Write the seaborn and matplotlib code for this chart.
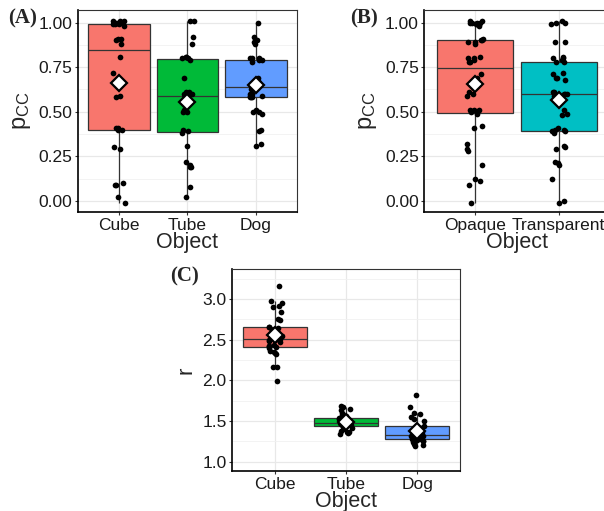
import numpy as np
import pandas as pd
import seaborn as sb
import matplotlib.pyplot as plt

objects = ["Cube", "Tube", "Dog"]
materials = ["Opaque", "Transparent"]

pcc_cube = [1.01, 1.00, 1.00, 0.99, 1.01, 0.98, 1.00, 0.99, 1.01, 1.00, 0.99,
            0.91, 0.91, 0.90, 0.88, 0.81, 0.72, 0.59, 0.58,
            0.41, 0.41, 0.40, 0.40, 0.30, 0.29, 0.10, 0.09, 0.09, 0.02, -0.01]
pcc_tube = [1.01, 1.01, 0.92, 0.88, 0.81, 0.80, 0.79, 0.80, 0.81, 0.69,
            0.61, 0.60, 0.60, 0.59, 0.58, 0.60, 0.61, 0.59, 0.51, 0.50, 0.50,
            0.40, 0.39, 0.38, 0.31, 0.22, 0.20, 0.19, 0.19, 0.08, 0.02]
pcc_dog = [1.00, 0.92, 0.90, 0.89, 0.88, 0.80, 0.80, 0.79, 0.78, 0.79,
           0.69, 0.66, 0.65, 0.66, 0.60, 0.59, 0.58, 0.58, 0.58, 0.63, 0.64,
           0.60, 0.59, 0.67, 0.51, 0.50, 0.50, 0.49, 0.40, 0.39, 0.31, 0.32, 0.80]

# panel B: p_CC per material
pcc_opaque = [1.00, 1.01, 0.99, 1.00, 0.99, 1.00, 1.01, 0.98, 1.00,
              0.91, 0.90, 0.89, 0.89, 0.88, 0.90,
              0.81, 0.80, 0.79, 0.78, 0.78, 0.80,
              0.71, 0.69, 0.61, 0.60, 0.59,
              0.51, 0.51, 0.50, 0.51, 0.50, 0.49,
              0.42, 0.41, 0.32, 0.29, 0.28, 0.20, 0.12, 0.11, 0.09, -0.01]
pcc_transp = [1.01, 1.00, 1.00, 0.99, 0.89, 0.89, 0.81, 0.80, 0.79, 0.78, 0.80, 0.78,
              0.72, 0.71, 0.69, 0.69, 0.68,
              0.61, 0.60, 0.60, 0.60, 0.59, 0.61, 0.59,
              0.51, 0.49, 0.48, 0.41, 0.40, 0.40, 0.39, 0.39, 0.38,
              0.31, 0.30, 0.29, 0.22, 0.21, 0.20, 0.12, 0.00, -0.01]

# panel C: r per object
r_cube = [3.16, 2.97, 2.95, 2.92, 2.90, 2.84, 2.75, 2.74, 2.66, 2.65, 2.64,
          2.62, 2.58, 2.57, 2.55, 2.53, 2.51, 2.50, 2.49, 2.48, 2.47, 2.43,
          2.42, 2.42, 2.41, 2.40, 2.36, 2.35, 2.34, 2.33, 2.17, 2.17, 1.99]
r_tube = [1.68, 1.67, 1.65, 1.63, 1.60, 1.57, 1.56, 1.54, 1.53, 1.52, 1.52,
          1.51, 1.50, 1.49, 1.49, 1.48, 1.48, 1.47, 1.47, 1.46, 1.46, 1.45,
          1.45, 1.44, 1.43, 1.41, 1.40, 1.38, 1.37, 1.36, 1.35, 1.34]
r_dog = [1.82, 1.67, 1.60, 1.59, 1.55, 1.52, 1.50, 1.44, 1.42, 1.41, 1.40,
         1.38, 1.36, 1.35, 1.33, 1.32, 1.32, 1.31, 1.30, 1.30, 1.29, 1.28,
         1.28, 1.27, 1.26, 1.25, 1.24, 1.22, 1.20, 1.19]

obj_colors = ["#F8766D", "#00BA38", "#619CFF"]
mat_colors = ["#F8766D", "#00BFC4"]


def long_df(names, groups, col):
    labels, vals = [], []
    for n, g in zip(names, groups):
        labels += [n] * len(g)
        vals += g
    return pd.DataFrame({"Object": labels, col: vals})


df_a = long_df(objects, [pcc_cube, pcc_tube, pcc_dog], "pcc")
df_b = long_df(materials, [pcc_opaque, pcc_transp], "pcc")
df_c = long_df(objects, [r_cube, r_tube, r_dog], "r")

sb.set_style("white")
plt.rcParams["font.family"] = ["Liberation Sans", "DejaVu Sans"]
np.random.seed(3)


def panel(ax, df, col, order, colors, ylim, yticks, minor, fmt, ylabel, ysize):
    sb.boxplot(data=df, x="Object", y=col, hue="Object", order=order, hue_order=order,
               palette=colors, width=0.9, saturation=1, showfliers=False, showcaps=False,
               linecolor="#333333", linewidth=0.9, legend=False, ax=ax)
    sb.stripplot(data=df, x="Object", y=col, order=order, color="black", size=4.1,
                 jitter=0.1, linewidth=0, zorder=3, ax=ax)
    sb.pointplot(data=df, x="Object", y=col, order=order, errorbar=None, color="white",
                 marker="D", linestyle="none", markersize=8.5, markeredgecolor="black",
                 markeredgewidth=1.6, zorder=4, ax=ax)
    ax.set_xlim(-0.6, len(order) - 0.4)
    ax.set_ylim(*ylim)
    ax.set_yticks(yticks)
    ax.set_yticklabels([fmt.format(v) for v in yticks])
    ax.set_yticks(minor, minor=True)
    ax.grid(True, which="major", color="#E8E8E8", lw=0.9)
    ax.grid(True, which="minor", axis="y", color="#F1F1F1", lw=0.6)
    ax.set_axisbelow(True)
    ax.tick_params(which="major", length=2.5, width=0.8, color="#333333",
                   labelsize=12.5, labelcolor="#1a1a1a", pad=1.5, left=True, bottom=True)
    ax.tick_params(which="minor", length=0)
    for s in ["left", "bottom"]:
        ax.spines[s].set_color("black")
        ax.spines[s].set_linewidth(1.2)
    for s in ["top", "right"]:
        ax.spines[s].set_color("#333333")
        ax.spines[s].set_linewidth(0.8)
    ax.set_xlabel("Object", fontsize=15.5, labelpad=-0.5)
    ax.set_ylabel(ylabel, fontsize=ysize, labelpad=4)


fig = plt.figure(figsize=(6.04, 5.11), dpi=100)
ax_a = fig.add_axes([0.1291, 0.5851, 0.3626, 0.3953])
ax_b = fig.add_axes([0.7025, 0.5851, 0.3060, 0.3953])
ax_c = fig.add_axes([0.3846, 0.0783, 0.3770, 0.3953])

pcc_ticks = [0.0, 0.25, 0.5, 0.75, 1.0]
pcc_minor = [0.125, 0.375, 0.625, 0.875]
panel(ax_a, df_a, "pcc", objects, obj_colors, (-0.063, 1.071), pcc_ticks, pcc_minor,
      "{:.2f}", r"$\mathregular{p_{CC}}$", 17)
panel(ax_b, df_b, "pcc", materials, mat_colors, (-0.063, 1.071), pcc_ticks, pcc_minor,
      "{:.2f}", r"$\mathregular{p_{CC}}$", 17)
panel(ax_c, df_c, "r", objects, obj_colors, (0.886, 3.369), [1.0, 1.5, 2.0, 2.5, 3.0],
      [1.25, 1.75, 2.25, 2.75, 3.25], "{:.1f}", "r", 16)

for x, y, t in [(0.013, 0.963, "(A)"), (0.579, 0.963, "(B)"), (0.281, 0.458, "(C)")]:
    fig.text(x, y, t, fontfamily="Liberation Serif", fontweight="bold", fontsize=15,
             ha="left", va="center")

fig.savefig("out.png", dpi=100)
